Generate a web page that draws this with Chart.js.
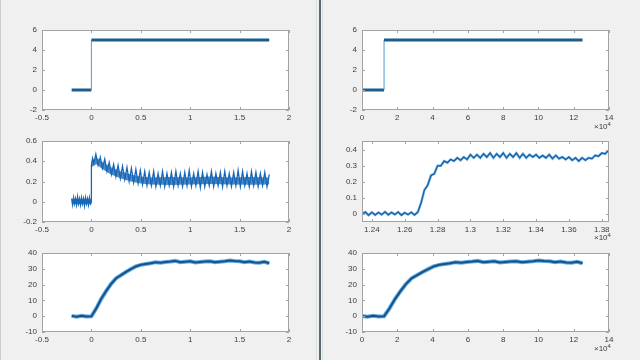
<!DOCTYPE html>
<html>
<head>
<meta charset="utf-8">
<script src="https://cdn.jsdelivr.net/npm/chart.js@4.4.1/dist/chart.umd.min.js"></script>
<style>
  html, body { margin: 0; padding: 0; }
  body { width: 640px; height: 360px; background: #eff0ef; position: relative; overflow: hidden; font-family: "Liberation Sans", Arial, sans-serif; }
  .plot { position: absolute; }
  .sep { position: absolute; top: 0; height: 360px; }
  .exp { position: absolute; font-size: 8px; color: #3c3c3c; }
  .exp sup { font-size: 6px; vertical-align: 3px; }
</style>
</head>
<body>
<div class="sep" style="left:0;width:1px;background:#c9cdcf"></div>
<div class="sep" style="left:316px;width:1px;background:#d6dfe3"></div>
<div class="sep" style="left:319px;width:2px;background:#5d686d"></div>
<div class="sep" style="left:322px;width:1px;background:#d6dfe3"></div>

<canvas id="c1" class="plot"></canvas>
<canvas id="c2" class="plot"></canvas>
<canvas id="c3" class="plot"></canvas>
<canvas id="c4" class="plot"></canvas>
<canvas id="c5" class="plot"></canvas>
<canvas id="c6" class="plot"></canvas>

<div class="exp" style="left:594px;top:121px">&times;10<sup>4</sup></div>
<div class="exp" style="left:594px;top:232px">&times;10<sup>4</sup></div>
<div class="exp" style="left:594px;top:343px">&times;10<sup>4</sup></div>

<script>
// step input, left: time in s, right: samples (x1e4)
const stepTimeLeft = [-0.2, 0, 0, 1.8];
const stepTimeRight = [0, 1.25, 1.25, 12.5];
const stepValue = [0, 0, 5, 5];

// middle left: noisy response, before and after the step
const midPreT = [-0.2, -0.19, -0.18, -0.17, -0.16, -0.15, -0.14, -0.13, -0.12, -0.11, -0.1,
  -0.09, -0.08, -0.07, -0.06, -0.05, -0.04, -0.03, -0.02, -0.01, 0];
const midPreV = [0.03, -0.03, 0.04, -0.02, 0.03, -0.03, 0.05, -0.02, 0.03, -0.03, 0.04,
  -0.02, 0.03, -0.04, 0.04, -0.02, 0.03, -0.03, 0.04, -0.02, 0.0];
const midOscT = [0, 0.012, 0.025, 0.045, 0.0675, 0.09, 0.1125, 0.135, 0.1575, 0.18, 0.2025,
  0.225, 0.2475, 0.27, 0.2925, 0.315, 0.3375, 0.36, 0.3825, 0.405, 0.4275, 0.45, 0.4725,
  0.495, 0.5175, 0.54, 0.5625, 0.585, 0.6075, 0.63, 0.6525, 0.675, 0.6975, 0.72, 0.7425,
  0.765, 0.7875, 0.81, 0.8325, 0.855, 0.8775, 0.9, 0.9225, 0.945, 0.9675, 0.99, 1.0125,
  1.035, 1.0575, 1.08, 1.1025, 1.125, 1.1475, 1.17, 1.1925, 1.215, 1.2375, 1.26, 1.2825,
  1.305, 1.3275, 1.35, 1.3725, 1.395, 1.4175, 1.44, 1.4625, 1.485, 1.5075, 1.53, 1.5525,
  1.575, 1.5975, 1.62, 1.6425, 1.665, 1.6875, 1.71, 1.7325, 1.755, 1.7775, 1.8];
const midOscV = [0.36, 0.43, 0.38, 0.47, 0.36, 0.44, 0.33, 0.42, 0.30, 0.39, 0.27,
  0.37, 0.25, 0.36, 0.23, 0.35, 0.22, 0.34, 0.20, 0.33, 0.19, 0.32, 0.18,
  0.31, 0.17, 0.30, 0.16, 0.29, 0.16, 0.30, 0.15, 0.28, 0.16, 0.30, 0.15,
  0.28, 0.16, 0.29, 0.15, 0.30, 0.16, 0.28, 0.15, 0.29, 0.16, 0.31, 0.15,
  0.28, 0.16, 0.30, 0.14, 0.29, 0.15, 0.27, 0.16, 0.30, 0.15, 0.28, 0.16,
  0.29, 0.15, 0.30, 0.16, 0.28, 0.15, 0.29, 0.16, 0.31, 0.15, 0.30, 0.16,
  0.28, 0.15, 0.30, 0.16, 0.29, 0.15, 0.28, 0.16, 0.29, 0.15, 0.27];
// dense core of the noisy band (lower / upper edge)
const midCoreT = [-0.2, 0, 0, 0.05, 0.1, 0.15, 0.2, 0.3, 0.4, 0.5, 0.6, 0.8, 1.0, 1.2, 1.4, 1.6, 1.8];
const midCoreLow = [-0.025, -0.025, 0.34, 0.37, 0.33, 0.30, 0.27, 0.23, 0.20, 0.18, 0.17,
  0.165, 0.17, 0.175, 0.17, 0.168, 0.17];
const midCoreHigh = [0.03, 0.03, 0.40, 0.44, 0.40, 0.37, 0.34, 0.30, 0.27, 0.25, 0.24,
  0.245, 0.24, 0.25, 0.24, 0.245, 0.24];

// middle right: zoom around the step (x1e4 samples)
const zoomT = [1.234, 1.236, 1.238, 1.240, 1.242, 1.244, 1.246, 1.248, 1.250, 1.252,
  1.254, 1.256, 1.258, 1.260, 1.262, 1.264, 1.266, 1.268, 1.270, 1.272, 1.274, 1.276,
  1.278, 1.280, 1.282, 1.284, 1.286, 1.288, 1.290, 1.292, 1.294, 1.296, 1.298, 1.300,
  1.302, 1.304, 1.306, 1.308, 1.310, 1.312, 1.314, 1.316, 1.318, 1.320, 1.322, 1.324,
  1.326, 1.328, 1.330, 1.332, 1.334, 1.336, 1.338, 1.340, 1.342, 1.344, 1.346, 1.348,
  1.350, 1.352, 1.354, 1.356, 1.358, 1.360, 1.362, 1.364, 1.366, 1.368, 1.370, 1.372,
  1.374, 1.376, 1.378, 1.380, 1.382, 1.384];
const zoomV = [0.0, 0.012, -0.008, 0.01, -0.006, 0.009, -0.004, 0.013, -0.005, 0.01,
  -0.003, 0.012, -0.007, 0.008, -0.004, 0.011, -0.006, 0.012, 0.07, 0.15, 0.18, 0.24,
  0.25, 0.30, 0.30, 0.33, 0.32, 0.34, 0.33, 0.35, 0.335, 0.355, 0.34, 0.37,
  0.35, 0.37, 0.35, 0.375, 0.355, 0.38, 0.35, 0.375, 0.355, 0.38, 0.35, 0.375,
  0.355, 0.38, 0.35, 0.375, 0.35, 0.37, 0.355, 0.37, 0.35, 0.365, 0.35, 0.37,
  0.345, 0.365, 0.345, 0.355, 0.34, 0.355, 0.335, 0.35, 0.33, 0.35, 0.335, 0.35,
  0.345, 0.365, 0.36, 0.38, 0.375, 0.395];

// bottom: output, same signal vs time (left) and samples x1e4 (right)
const outTimeLeft = [-0.2, -0.15, -0.1, -0.05, 0, 0.05, 0.1, 0.15, 0.2, 0.25, 0.3, 0.35,
  0.4, 0.45, 0.5, 0.55, 0.6, 0.65, 0.7, 0.75, 0.8, 0.85, 0.9, 0.95, 1.0, 1.05, 1.1, 1.15,
  1.2, 1.25, 1.3, 1.35, 1.4, 1.45, 1.5, 1.55, 1.6, 1.65, 1.7, 1.75, 1.8];
const outTimeRight = [0, 0.31, 0.63, 0.94, 1.25, 1.56, 1.88, 2.19, 2.5, 2.81, 3.13, 3.44,
  3.75, 4.06, 4.38, 4.69, 5, 5.31, 5.63, 5.94, 6.25, 6.56, 6.88, 7.19, 7.5, 7.81, 8.13, 8.44,
  8.75, 9.06, 9.38, 9.69, 10, 10.31, 10.63, 10.94, 11.25, 11.56, 11.88, 12.19, 12.5];
const outValue = [0.2, -0.3, 0.3, -0.2, 0, 5, 11, 16, 20.5, 24, 26, 28,
  29.8, 31.5, 32.5, 33, 33.5, 34.2, 33.8, 34.3, 34.6, 35, 34.2, 34.5, 34.8, 34, 34.3, 34.6,
  34.8, 34.2, 34.5, 34.8, 35.3, 35, 34.8, 34.2, 34.6, 34, 33.8, 34.4, 33.5];

const pts = (xs, ys) => xs.map((x, i) => ({ x: x, y: ys[i] }));

const frame = {
  id: 'frame',
  beforeDraw(chart) {
    const a = chart.chartArea, c = chart.ctx;
    c.save();
    c.fillStyle = '#ffffff';
    c.fillRect(a.left, a.top, a.right - a.left, a.bottom - a.top);
    c.restore();
  },
  afterDraw(chart) {
    const a = chart.chartArea, c = chart.ctx;
    const xs = chart.scales.x, ys = chart.scales.y;
    c.save();
    c.strokeStyle = '#a3a3a3';
    c.lineWidth = 1;
    c.strokeRect(a.left + 0.5, a.top + 0.5, a.right - a.left - 1, a.bottom - a.top - 1);
    c.beginPath();
    xs.ticks.forEach(t => {
      const px = Math.round(xs.getPixelForValue(t.value)) + 0.5;
      c.moveTo(px, a.bottom); c.lineTo(px, a.bottom - 3);
      c.moveTo(px, a.top); c.lineTo(px, a.top + 3);
    });
    ys.ticks.forEach(t => {
      const py = Math.round(ys.getPixelForValue(t.value)) + 0.5;
      c.moveTo(a.left, py); c.lineTo(a.left + 3, py);
      c.moveTo(a.right, py); c.lineTo(a.right - 3, py);
    });
    c.stroke();
    c.restore();
  }
};

const fmt = v => String(Math.round(v * 1e6) / 1e6);

function plot(id, box, xr, yr, datasets) {
  const cv = document.getElementById(id);
  const w = box.r - box.l + 50, h = box.b - box.t + 25;
  cv.width = w; cv.height = h;
  cv.style.left = (box.l - 40) + 'px';
  cv.style.top = (box.t - 10) + 'px';
  cv.style.width = w + 'px';
  cv.style.height = h + 'px';
  const tickFont = { family: '"Liberation Sans", Arial, sans-serif', size: 8 };
  new Chart(cv.getContext('2d'), {
    type: 'line',
    data: { datasets: datasets },
    options: {
      responsive: false,
      animation: false,
      devicePixelRatio: 1,
      layout: { padding: { top: 10, right: 10, left: 0, bottom: 0 } },
      plugins: { legend: { display: false }, tooltip: { enabled: false } },
      elements: { point: { radius: 0 }, line: { tension: 0 } },
      scales: {
        x: {
          type: 'linear', min: xr[0], max: xr[1],
          grid: { display: false, drawTicks: false, tickLength: 0 }, border: { display: false },
          ticks: { stepSize: xr[2], includeBounds: false, autoSkip: false, maxRotation: 0,
            padding: 3, color: '#3c3c3c', font: tickFont, callback: fmt },
          afterFit: s => { s.height = 15; }
        },
        y: {
          type: 'linear', min: yr[0], max: yr[1],
          grid: { display: false, drawTicks: false, tickLength: 0 }, border: { display: false },
          ticks: { stepSize: yr[2], includeBounds: false, autoSkip: false,
            padding: 5, color: '#3c3c3c', font: tickFont, callback: fmt },
          afterFit: s => { s.width = 40; }
        }
      }
    },
    plugins: [frame]
  });
}

const L = { l: 42, r: 289 }, R = { l: 362, r: 609 };
const rowTop = { t: 30, b: 110 }, rowMid = { t: 141, b: 222 }, rowBot = { t: 253, b: 332 };

const stepSeg = {
  borderWidth: ctx => ctx.p0.parsed.x === ctx.p1.parsed.x ? 1 : 3,
  borderColor: ctx => ctx.p0.parsed.x === ctx.p1.parsed.x ? '#4a9fd6' : '#1b5d8e'
};

plot('c1', { ...L, ...rowTop }, [-0.5, 2, 0.5], [-2, 6, 2], [
  { data: pts(stepTimeLeft, stepValue), borderColor: '#1b5d8e', borderWidth: 3, segment: stepSeg }
]);
plot('c2', { ...R, ...rowTop }, [0, 14, 2], [-2, 6, 2], [
  { data: pts(stepTimeRight, stepValue), borderColor: '#1b5d8e', borderWidth: 3, segment: stepSeg }
]);

plot('c3', { ...L, ...rowMid }, [-0.5, 2, 0.5], [-0.2, 0.6, 0.2], [
  { data: pts(midPreT, midPreV).concat(pts(midOscT, midOscV)), borderColor: '#1767b8', borderWidth: 1.3, order: 0 },
  { data: pts(midCoreT, midCoreLow), borderColor: 'rgba(0,0,0,0)', borderWidth: 0, fill: false, order: 2 },
  { data: pts(midCoreT, midCoreHigh), borderColor: 'rgba(0,0,0,0)', borderWidth: 0,
    fill: '-1', backgroundColor: 'rgba(20,98,178,0.75)', order: 1 }
]);
plot('c4', { ...R, ...rowMid }, [1.234, 1.3844, 0.02], [-0.05, 0.455, 0.1], [
  { data: pts(zoomT, zoomV), borderColor: '#1d5a9c', borderWidth: 1.2, order: 1 },
  { data: pts(zoomT, zoomV), borderColor: '#6bb8ee', borderWidth: 2.5, order: 2 }
]);

plot('c5', { ...L, ...rowBot }, [-0.5, 2, 0.5], [-10, 40, 10], [
  { data: pts(outTimeLeft, outValue), borderColor: '#1d4f87', borderWidth: 2, order: 1 },
  { data: pts(outTimeLeft, outValue), borderColor: '#5aaee6', borderWidth: 4, order: 2 }
]);
plot('c6', { ...R, ...rowBot }, [0, 14, 2], [-10, 40, 10], [
  { data: pts(outTimeRight, outValue), borderColor: '#1d4f87', borderWidth: 2, order: 1 },
  { data: pts(outTimeRight, outValue), borderColor: '#5aaee6', borderWidth: 4, order: 2 }
]);
</script>
</body>
</html>
